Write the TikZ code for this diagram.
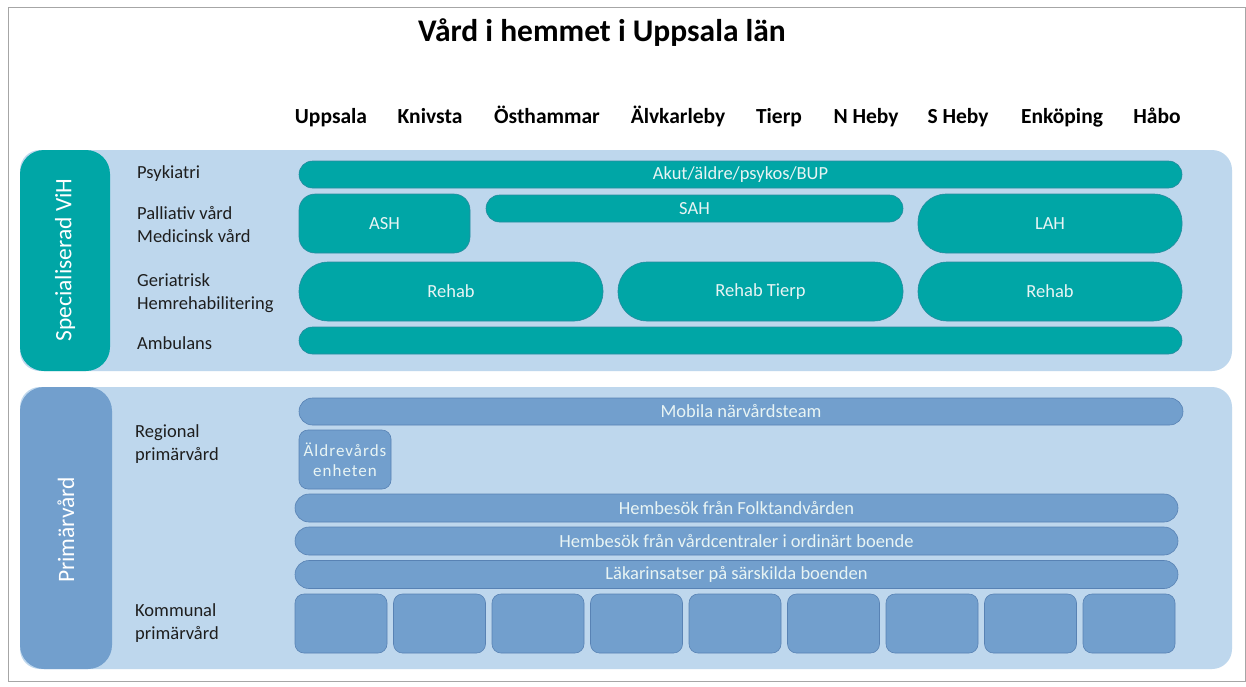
\documentclass[tikz,border=0pt]{standalone}
\usepackage{fontspec}
\setmainfont{Carlito}
\definecolor{teal1}{RGB}{0,166,166}
\definecolor{tealb}{RGB}{40,140,160}
\definecolor{pale}{RGB}{190,215,237}
\definecolor{blue1}{RGB}{114,159,205}
\definecolor{blueb}{RGB}{88,130,180}
\definecolor{txt}{RGB}{30,30,30}
\definecolor{lighttxt}{RGB}{232,244,244}
\begin{document}
\begin{tikzpicture}[x=1pt,y=-1pt,
  panel/.style={fill=pale,draw=none,rounded corners=20pt,inner sep=0pt},
  tab/.style={rounded corners=24pt,inner sep=0pt},
  tablab/.style={rotate=90,text=white,font=\fontsize{23.5}{26}\selectfont,inner sep=0pt},
  tbar/.style={fill=teal1,draw=tealb,line width=0.6pt,inner sep=0pt,text=lighttxt,font=\fontsize{18.5}{22}\selectfont},
  bbar/.style={fill=blue1,draw=blueb,line width=0.6pt,inner sep=0pt,text=lighttxt,font=\fontsize{18.5}{22}\selectfont},
  rowlab/.style={anchor=west,text=txt,align=left,font=\fontsize{18.5}{23}\selectfont,inner sep=0pt},
  col/.style={anchor=base,font=\bfseries\fontsize{21.5}{24}\selectfont,text=black,inner sep=0pt}]
\useasboundingbox (0,0) rectangle (1246,686);
\fill[white] (0,0) rectangle (1246,686);
\draw[gray!70,line width=1pt] (8,7) rectangle (1245,681);
% title
\node[anchor=base,font=\bfseries\fontsize{31.5}{34}\selectfont,inner sep=0pt] (title) at (602,41) {Vård i hemmet i Uppsala län};
% column headers
\node[col] (c1) at (331,123) {Uppsala};
\node[col] (c2) at (430,123) {Knivsta};
\node[col] (c3) at (547,123) {Östhammar};
\node[col] (c4) at (678,123) {Älvkarleby};
\node[col] (c5) at (779,123) {Tierp};
\node[col] (c6) at (866,123) {N Heby};
\node[col] (c7) at (958,123) {S Heby};
\node[col] (c8) at (1062,123) {Enköping};
\node[col] (c9) at (1157,123) {Håbo};
% top panel
\node[panel,minimum width=1212pt,minimum height=221pt] (p1) at (626,260.5) {};
\node[tab,fill=teal1,minimum width=90pt,minimum height=221pt] (t1) at (65,260.5) {};
\node[tablab] (t1l) at (65,260) {Specialiserad ViH};
\node[rowlab] (l1) at (137,174) {Psykiatri};
\node[rowlab] (l2) at (137,225) {Palliativ vård\\Medicinsk vård};
\node[rowlab] (l3) at (137,293) {Geriatrisk\\Hemrehabilitering};
\node[rowlab] (l4) at (137,343) {Ambulans};
\node[tbar,rounded corners=13.5pt,minimum width=883pt,minimum height=27pt] (akut) at (740.5,174.5) {Akut/äldre/psykos/BUP};
\node[tbar,rounded corners=16pt,minimum width=171pt,minimum height=59pt] (ash) at (384.5,223.5) {ASH};
\node[tbar,rounded corners=13.5pt,minimum width=417pt,minimum height=27pt] (sah) at (694.5,208.5) {SAH};
\node[tbar,rounded corners=28pt,minimum width=264pt,minimum height=59pt] (lah) at (1050,223.5) {LAH};
\node[tbar,rounded corners=29pt,minimum width=304pt,minimum height=59pt] (r1) at (451,291.5) {Rehab};
\node[tbar,rounded corners=29pt,minimum width=285pt,minimum height=59pt] (r2) at (760.5,291.5) {Rehab Tierp};
\node[tbar,rounded corners=29pt,minimum width=264pt,minimum height=59pt] (r3) at (1050,291.5) {Rehab};
\node[tbar,rounded corners=13.5pt,minimum width=883pt,minimum height=27pt] (amb) at (740.5,340.5) {};
% bottom panel
\node[panel,minimum width=1212pt,minimum height=282pt] (p2) at (626,528) {};
\node[tab,fill=blue1,minimum width=92pt,minimum height=282pt] (t2) at (66,528) {};
\node[tablab] (t2l) at (66,530) {Primärvård};
\node[rowlab] (l5) at (135,444) {Regional\\primärvård};
\node[rowlab] (l6) at (135,623) {Kommunal\\primärvård};
\node[bbar,rounded corners=13.5pt,minimum width=884pt,minimum height=27pt] (mob) at (741,411.5) {Mobila närvårdsteam};
\node[bbar,rounded corners=9pt,minimum width=92pt,minimum height=59pt,align=center,font=\fontsize{17}{20}\selectfont\addfontfeature{LetterSpace=6}] (aldre) at (345,459.5) {Äldrevårds\\enheten};
\node[bbar,rounded corners=14pt,minimum width=883pt,minimum height=28pt] (folk) at (736.5,508) {Hembesök från Folktandvården};
\node[bbar,rounded corners=14pt,minimum width=883pt,minimum height=28pt] (vc) at (736.5,541) {Hembesök från vårdcentraler i ordinärt boende};
\node[bbar,rounded corners=14pt,minimum width=883pt,minimum height=28pt] (lak) at (736.5,574.5) {Läkarinsatser på särskilda boenden};
\foreach \i in {0,...,8}{
  \node[bbar,rounded corners=9pt,minimum width=92pt,minimum height=59pt] (k\i) at (341+98.5*\i,623.5) {};
}
\end{tikzpicture}
\end{document}
